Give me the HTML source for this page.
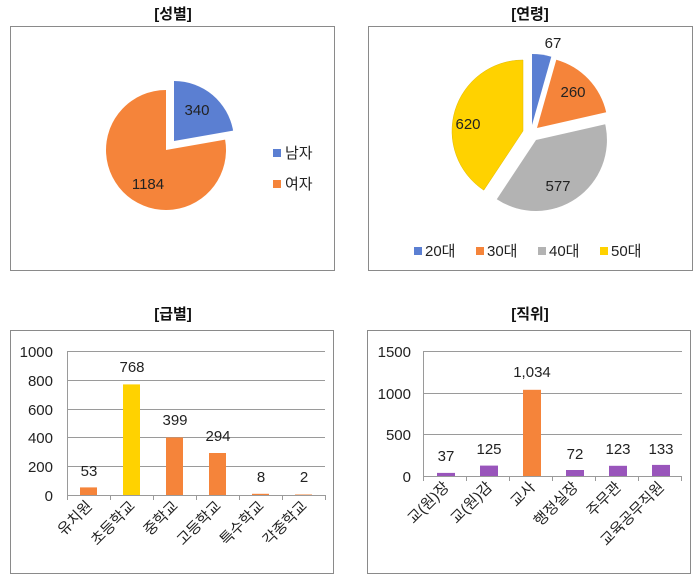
<!DOCTYPE html>
<html><head><meta charset="utf-8"><style>
html,body{margin:0;padding:0;background:#fff;}
svg{display:block;font-family:"Liberation Sans","Noto Sans CJK KR",sans-serif;}
</style></head><body>
<svg width="700" height="582" viewBox="0 0 700 582" xmlns="http://www.w3.org/2000/svg">
<g font-weight="bold" font-size="15" text-anchor="middle" fill="#111">
<text x="173" y="19">[성별]</text>
<text x="530" y="19">[연령]</text>
<text x="173" y="319">[급별]</text>
<text x="530" y="319">[직위]</text>
</g>
<g fill="none" stroke="#8a8a8a" stroke-width="1">
<rect x="10.5" y="26.5" width="324" height="244"/>
<rect x="368.5" y="26.5" width="324" height="244"/>
<rect x="10.5" y="330.5" width="323" height="243"/>
<rect x="367.5" y="330.5" width="323" height="243"/>
</g>
<!-- pie 1 -->
<path d="M166,150 L225.1,139.6 A60,60 0 1 1 166,90 Z" fill="#f5843a"/>
<path d="M174,141 L174,81 A60,60 0 0 1 233.1,130.6 Z" fill="#5b7fd2"/>
<g font-size="15" fill="#222" text-anchor="middle">
<text x="197" y="115">340</text>
<text x="148" y="189">1184</text>
</g>
<rect x="273" y="149" width="8" height="8" fill="#5b7fd2"/>
<rect x="273" y="180" width="8" height="8" fill="#f5843a"/>
<g font-size="15" fill="#222"><text x="285" y="158">남자</text><text x="285" y="189">여자</text></g>
<!-- pie 2 -->
<path d="M523,131 L483.8,190.2 A71,71 0 0 1 523,60 Z" fill="#ffd200" stroke="#e0b800" stroke-width="0.5"/>
<path d="M536,140 L605.2,124.3 A71,71 0 0 1 496.8,199.2 Z" fill="#b3b3b3"/>
<path d="M537,128 L556.3,59.7 A71,71 0 0 1 606.2,112.3 Z" fill="#f5843a"/>
<path d="M532,125 L532,54 A71,71 0 0 1 551.3,56.7 Z" fill="#5b7fd2"/>
<g font-size="15" fill="#222" text-anchor="middle">
<text x="553" y="48">67</text>
<text x="573" y="97">260</text>
<text x="558" y="191">577</text>
<text x="468" y="129">620</text>
</g>
<rect x="414" y="247" width="8" height="8" fill="#5b7fd2"/>
<rect x="476" y="247" width="8" height="8" fill="#f5843a"/>
<rect x="538" y="247" width="8" height="8" fill="#b3b3b3"/>
<rect x="600" y="247" width="8" height="8" fill="#ffd200"/>
<g font-size="15" fill="#222"><text x="425" y="256">20대</text><text x="487" y="256">30대</text><text x="549" y="256">40대</text><text x="611" y="256">50대</text></g>
<!-- bar 1 -->
<g stroke="#9a9a9a" stroke-width="1">
<line x1="67" y1="351.5" x2="325" y2="351.5"/><line x1="67" y1="380.5" x2="325" y2="380.5"/>
<line x1="67" y1="409.5" x2="325" y2="409.5"/><line x1="67" y1="437.5" x2="325" y2="437.5"/>
<line x1="67" y1="466.5" x2="325" y2="466.5"/><line x1="67" y1="495.5" x2="325" y2="495.5"/>
<line x1="67.5" y1="351" x2="67.5" y2="500"/>
<line x1="110.5" y1="495" x2="110.5" y2="500"/><line x1="153.5" y1="495" x2="153.5" y2="500"/>
<line x1="196.5" y1="495" x2="196.5" y2="500"/><line x1="239.5" y1="495" x2="239.5" y2="500"/>
<line x1="282.5" y1="495" x2="282.5" y2="500"/><line x1="325.5" y1="495" x2="325.5" y2="500"/>
</g>
<g font-size="15" fill="#222" text-anchor="end">
<text x="53" y="357">1000</text><text x="53" y="386">800</text><text x="53" y="415">600</text>
<text x="53" y="443">400</text><text x="53" y="472">200</text><text x="53" y="501">0</text>
</g>
<rect x="80" y="487.4" width="17" height="7.6" fill="#f5843a"/>
<rect x="123" y="384.4" width="17" height="110.6" fill="#ffd200"/>
<rect x="166" y="437.5" width="17" height="57.5" fill="#f5843a"/>
<rect x="209" y="453" width="17" height="42" fill="#f5843a"/>
<rect x="252" y="493.8" width="17" height="1.2" fill="#f5843a"/>
<rect x="295" y="494.5" width="17" height="0.5" fill="#f5843a"/>
<g font-size="15" fill="#222" text-anchor="middle">
<text x="89" y="476">53</text><text x="132" y="372">768</text><text x="175" y="425">399</text>
<text x="218" y="441">294</text><text x="261" y="482">8</text><text x="304" y="482">2</text>
</g>
<g font-size="15" fill="#222" text-anchor="end">
<text transform="translate(93,507) rotate(-45)">유치원</text>
<text transform="translate(136,507) rotate(-45)">초등학교</text>
<text transform="translate(179,507) rotate(-45)">중학교</text>
<text transform="translate(222,507) rotate(-45)">고등학교</text>
<text transform="translate(265,507) rotate(-45)">특수학교</text>
<text transform="translate(308,507) rotate(-45)">각종학교</text>
</g>
<!-- bar 2 -->
<g stroke="#9a9a9a" stroke-width="1">
<line x1="423" y1="351.5" x2="682" y2="351.5"/><line x1="423" y1="393.5" x2="682" y2="393.5"/>
<line x1="423" y1="434.5" x2="682" y2="434.5"/><line x1="423" y1="476.5" x2="682" y2="476.5"/>
<line x1="423.5" y1="351" x2="423.5" y2="481"/>
<line x1="466.5" y1="476" x2="466.5" y2="481"/><line x1="509.5" y1="476" x2="509.5" y2="481"/>
<line x1="552.5" y1="476" x2="552.5" y2="481"/><line x1="595.5" y1="476" x2="595.5" y2="481"/>
<line x1="638.5" y1="476" x2="638.5" y2="481"/><line x1="681.5" y1="476" x2="681.5" y2="481"/>
</g>
<g font-size="15" fill="#222" text-anchor="end">
<text x="411" y="357">1500</text><text x="411" y="399">1000</text><text x="411" y="440">500</text><text x="411" y="482">0</text>
</g>
<g fill="#9955bb">
<rect x="437" y="472.9" width="18" height="3.1"/>
<rect x="480" y="465.6" width="18" height="10.4"/>
<rect x="566" y="470" width="18" height="6"/>
<rect x="609" y="465.8" width="18" height="10.2"/>
<rect x="652" y="464.9" width="18" height="11.1"/>
</g>
<rect x="523" y="389.8" width="18" height="86.2" fill="#f5843a"/>
<g font-size="15" fill="#222" text-anchor="middle">
<text x="446" y="461">37</text><text x="489" y="454">125</text><text x="532" y="377">1,034</text>
<text x="575" y="459">72</text><text x="618" y="454">123</text><text x="661" y="454">133</text>
</g>
<g font-size="15" fill="#222" text-anchor="end">
<text transform="translate(450,488) rotate(-45)">교(원)장</text>
<text transform="translate(493,488) rotate(-45)">교(원)감</text>
<text transform="translate(536,488) rotate(-45)">교사</text>
<text transform="translate(579,488) rotate(-45)">행정실장</text>
<text transform="translate(622,488) rotate(-45)">주무관</text>
<text transform="translate(665,488) rotate(-45)">교육공무직원</text>
</g>
</svg>
</body></html>
